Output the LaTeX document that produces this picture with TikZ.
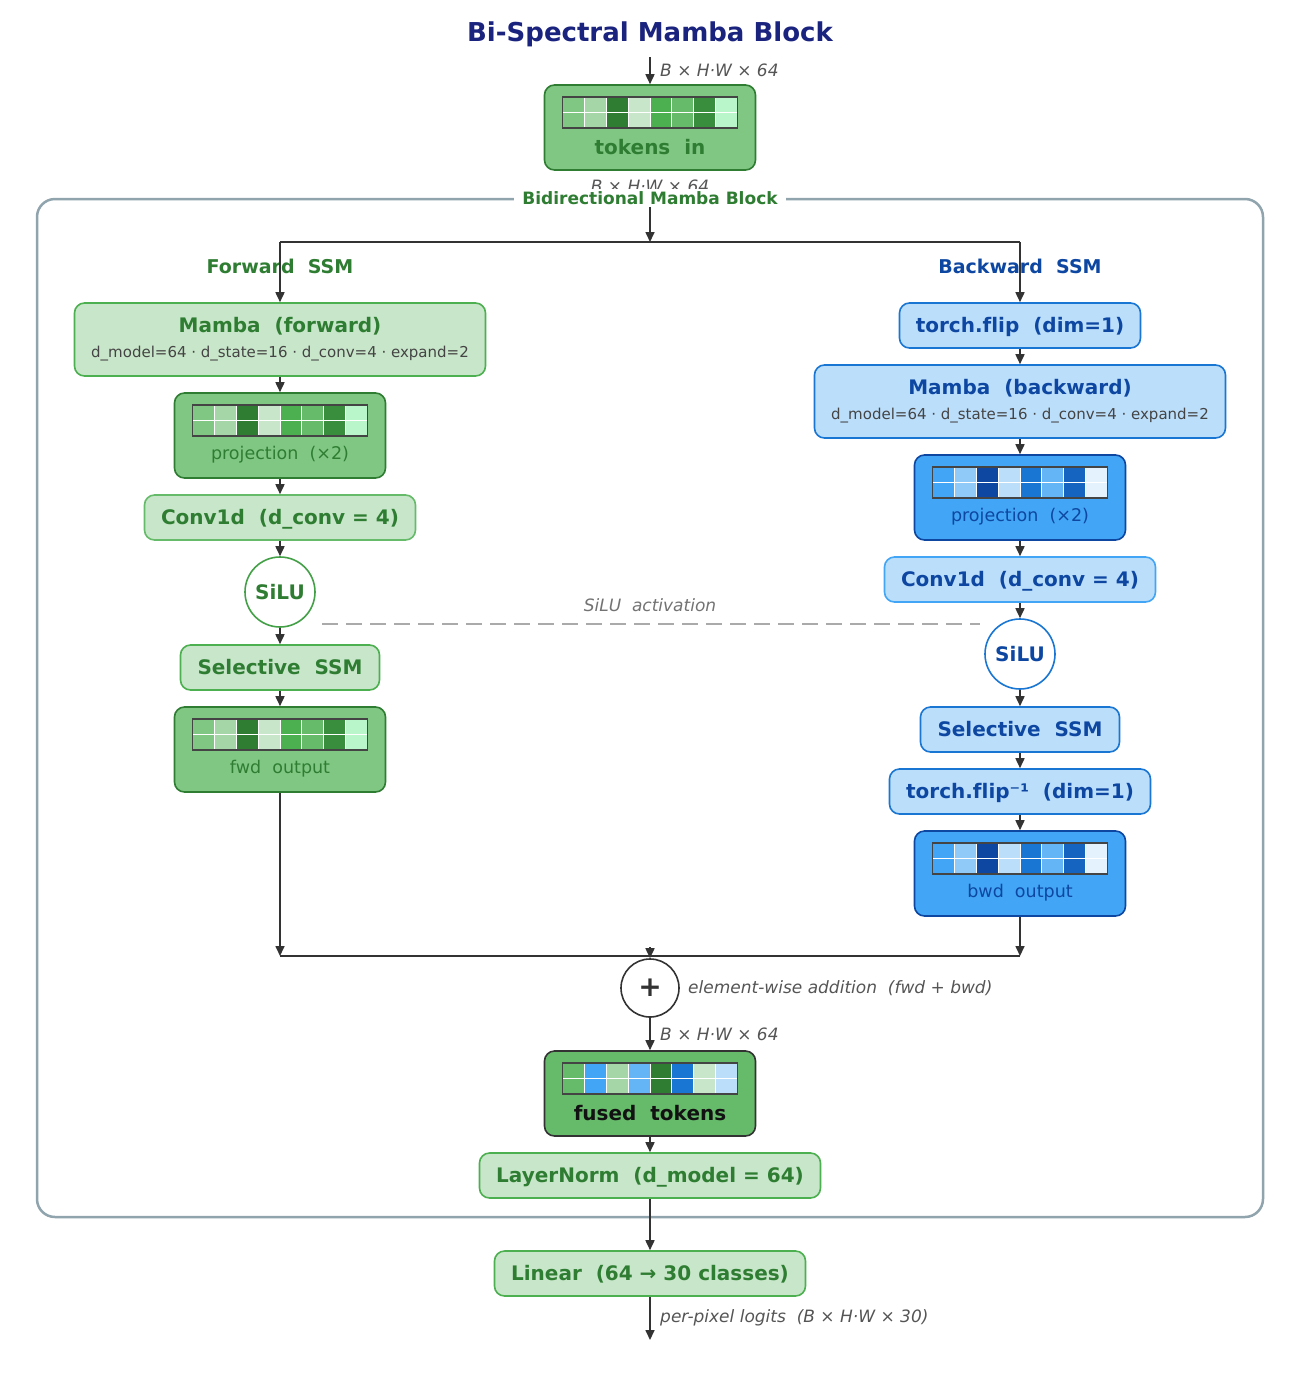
\documentclass[tikz,border=0pt]{standalone}
\usepackage{fontspec}
\setmainfont{DejaVu Sans}[Ligatures=CommonOff]
\usepackage{xcolor}
\usepackage{tikz}
\usetikzlibrary{arrows.meta,calc}
\definecolor{grnlight}{RGB}{200,230,201}
\definecolor{grnmid}{RGB}{76,175,80}
\definecolor{grnsoft}{RGB}{102,187,106}
\definecolor{grntok}{RGB}{129,199,132}
\definecolor{grndark}{RGB}{46,125,50}
\definecolor{grnsilu}{RGB}{67,160,71}
\definecolor{blulight}{RGB}{187,222,251}
\definecolor{blumid}{RGB}{25,118,210}
\definecolor{blusoft}{RGB}{66,165,245}
\definecolor{bludark}{RGB}{13,71,161}
\definecolor{titleblue}{RGB}{26,35,126}
\definecolor{panelgray}{RGB}{144,164,174}
\definecolor{figline}{RGB}{51,51,51}
\definecolor{notegray}{RGB}{85,85,85}
\definecolor{dashgray}{RGB}{170,170,170}
\definecolor{gridedge}{RGB}{68,68,68}
% token cell colours
\definecolor{gA}{RGB}{129,199,132}
\definecolor{gB}{RGB}{165,214,167}
\definecolor{gC}{RGB}{46,125,50}
\definecolor{gD}{RGB}{200,230,201}
\definecolor{gE}{RGB}{76,175,80}
\definecolor{gF}{RGB}{102,187,106}
\definecolor{gG}{RGB}{56,142,60}
\definecolor{gH}{RGB}{185,246,202}
\definecolor{bA}{RGB}{66,165,245}
\definecolor{bB}{RGB}{144,202,249}
\definecolor{bC}{RGB}{13,71,161}
\definecolor{bD}{RGB}{187,222,251}
\definecolor{bE}{RGB}{25,118,210}
\definecolor{bF}{RGB}{100,181,246}
\definecolor{bG}{RGB}{21,101,192}
\definecolor{bH}{RGB}{227,242,253}
\newcommand{\fsz}[1]{\fontsize{#1}{#1}\selectfont}
\newcommand{\tokengrid}[3]{%
  \foreach \cc [count=\k from 0] in {#3}
    \fill[\cc] ({#1-87.5+\k*21.875},#2) rectangle ++(21.875,31);
  \foreach \k in {1,...,7}
    \draw[white, line width=1pt] ({#1-87.5+\k*21.875},#2) -- ++(0,31);
  \draw[white, line width=1pt] ({#1-87.5},{#2+15.5}) -- ++(175,0);
  \draw[gridedge, line width=1.8pt] ({#1-87.5},#2) rectangle ++(175,31);
}
\tikzset{
  basebox/.style={rounded corners=10pt, line width=1.6pt, inner sep=0pt, align=center},
  grnbox/.style={basebox, fill=grnlight, draw=grnmid, text=grndark, minimum height=45pt, font=\fsz{20}\bfseries, text depth=2pt},
  grnconv/.style={grnbox, draw=grnsoft},
  blubox/.style={basebox, fill=blulight, draw=blumid, text=bludark, minimum height=45pt, font=\fsz{20}\bfseries, text depth=2pt},
  bluconv/.style={blubox, draw=blusoft},
  mambagrn/.style={basebox, fill=grnlight, draw=grnmid, minimum width=411pt, minimum height=73pt},
  mambablu/.style={basebox, fill=blulight, draw=blumid, minimum width=411pt, minimum height=73pt},
  tokgrn/.style={basebox, fill=grntok, draw=grndark, minimum width=211pt, minimum height=85pt},
  tokblu/.style={basebox, fill=blusoft, draw=bludark, minimum width=211pt, minimum height=85pt},
  tokfused/.style={basebox, fill=grnsoft, draw=figline, minimum width=211pt, minimum height=85pt},
  silugrn/.style={circle, fill=white, draw=grnsilu, line width=1.6pt, minimum size=70pt, inner sep=0pt, text=grndark, font=\fsz{20}\bfseries},
  silublu/.style={circle, fill=white, draw=blumid, line width=1.6pt, minimum size=70pt, inner sep=0pt, text=bludark, font=\fsz{20}\bfseries},
  sumnode/.style={circle, fill=white, draw=figline, line width=1.6pt, minimum size=58pt, inner sep=0pt, text=figline, font=\fsz{28}\bfseries},
  panel/.style={draw=panelgray, rounded corners=18pt, line width=2.5pt},
  line/.style={-{Triangle[length=10pt,width=9pt]}, draw=figline, line width=1.6pt},
  wire/.style={draw=figline, line width=1.6pt},
  sepline/.style={draw=dashgray, line width=1.6pt, dash pattern=on 16pt off 8pt},
  figtitle/.style={font=\fsz{26}\bfseries, text=titleblue},
  note/.style={font=\fsz{17}\itshape, text=notegray, inner sep=0pt},
  subnote/.style={font=\fsz{15}, text=gridedge, inner sep=0pt},
  toklabel/.style={font=\fsz{17.5}, inner sep=0pt},
  toktitle/.style={font=\fsz{20}\bfseries, inner sep=0pt},
  sidetitle/.style={font=\fsz{19}\bfseries, inner sep=0pt}
}

\begin{document}
\begin{tikzpicture}[x=1pt,y=-1pt]
  \useasboundingbox[fill=white] (0,0) rectangle (1300,1395);

  \node[figtitle] (title) at (650,34) {Bi-Spectral Mamba Block};

  % input tokens
  \coordinate (in) at (650,57);
  \node[tokgrn] (tokin) at (650,127.5) {};
  \tokengrid{650}{97}{gA,gB,gC,gD,gE,gF,gG,gH}
  \node[toktitle, text=grndark] (tokin-t) at (650,147) {tokens~~in};
  \node[note, anchor=west] (dimin) at (660,70) {B × H·W × 64};
  \node[note] (dimblk) at (650,186) {B × H·W × 64};
  \draw[line] (in) -- (tokin.north);

  % block panel
  \node[panel, minimum width=1226pt, minimum height=1018pt] (blockpanel) at (650,708) {};
  \node[font=\fsz{17}\bfseries, text=grndark, fill=white, inner xsep=8pt, inner ysep=2pt] (paneltext) at (650,198) {Bidirectional Mamba Block};

  \coordinate (split) at (650,242);
  \coordinate (fsplit) at (280,242);
  \coordinate (bsplit) at (1020,242);
  \node[sidetitle, text=grndark] (fwdhead) at (280,266) {Forward~~SSM};
  \node[sidetitle, text=bludark] (bwdhead) at (1020,266) {Backward~~SSM};

  % forward branch
  \node[mambagrn] (mfwd) at (280,339.5) {};
  \node[toktitle, text=grndark] (mfwd-t) at (280,326) {Mamba~~(forward)};
  \node[subnote] (mfwd-s) at (280,354) {d\_model=64 · d\_state=16 · d\_conv=4 · expand=2};
  \node[tokgrn] (pfwd) at (280,435.5) {};
  \tokengrid{280}{405}{gA,gB,gC,gD,gE,gF,gG,gH}
  \node[toklabel, text=grndark] (pfwd-t) at (280,455) {projection~~(×2)};
  \node[grnconv, minimum width=271pt] (cfwd) at (280,517.5) {Conv1d~~(d\_conv = 4)};
  \node[silugrn] (sfwd) at (280,592) {SiLU};
  \node[grnbox, minimum width=199pt] (ssmf) at (280,667.5) {Selective~~SSM};
  \node[tokgrn] (ofwd) at (280,749.5) {};
  \tokengrid{280}{719}{gA,gB,gC,gD,gE,gF,gG,gH}
  \node[toklabel, text=grndark] (ofwd-t) at (280,769) {fwd~~output};

  % backward branch
  \node[blubox, minimum width=241pt] (flip) at (1020,325.5) {torch.flip~~(dim=1)};
  \node[mambablu] (mbwd) at (1020,401.5) {};
  \node[toktitle, text=bludark] (mbwd-t) at (1020,388) {Mamba~~(backward)};
  \node[subnote] (mbwd-s) at (1020,416) {d\_model=64 · d\_state=16 · d\_conv=4 · expand=2};
  \node[tokblu] (pbwd) at (1020,497.5) {};
  \tokengrid{1020}{467}{bA,bB,bC,bD,bE,bF,bG,bH}
  \node[toklabel, text=bludark] (pbwd-t) at (1020,517) {projection~~(×2)};
  \node[bluconv, minimum width=271pt] (cbwd) at (1020,579.5) {Conv1d~~(d\_conv = 4)};
  \node[silublu] (sbwd) at (1020,654) {SiLU};
  \node[blubox, minimum width=199pt] (ssmb) at (1020,729.5) {Selective~~SSM};
  \node[blubox, minimum width=261pt] (unflip) at (1020,791.5) {torch.flip⁻¹~~(dim=1)};
  \node[tokblu] (obwd) at (1020,873.5) {};
  \tokengrid{1020}{843}{bA,bB,bC,bD,bE,bF,bG,bH}
  \node[toklabel, text=bludark] (obwd-t) at (1020,893) {bwd~~output};

  % SiLU guide
  \coordinate (dashl) at (322,624);
  \coordinate (dashr) at (980,624);
  \draw[sepline] (dashl) -- (dashr);
  \node[note, text=black!55] (dashtext) at (650,605) {SiLU~~activation};

  % merge
  \coordinate (fjoin) at (280,956);
  \coordinate (bjoin) at (1020,956);
  \coordinate (mjoin) at (650,947);
  \node[sumnode] (plus) at (650,988) {+};
  \node[note, anchor=west] (plustext) at (688,988) {element-wise addition~~(fwd + bwd)};
  \node[tokfused] (fused) at (650,1093.5) {};
  \tokengrid{650}{1063}{gF,bA,gB,bF,gC,bE,gD,bD}
  \node[toktitle, text=black!93] (fused-t) at (650,1113) {fused~~tokens};
  \node[note, anchor=west] (dimfused) at (660,1034) {B × H·W × 64};
  \node[grnbox, minimum width=341pt] (lnorm) at (650,1175.5) {LayerNorm~~(d\_model = 64)};

  % head
  \node[grnbox, minimum width=311pt] (linear) at (650,1273.5) {Linear~~(64 → 30 classes)};
  \coordinate (out) at (650,1340);
  \node[note, anchor=west] (outtext) at (660,1318) {per-pixel logits~~(B × H·W × 30)};

  % connectors
  \draw[line] (paneltext.south) -- (split);
  \draw[wire] (fsplit) -- (bsplit);
  \draw[line] (fsplit) -- (mfwd.north);
  \draw[line] (bsplit) -- (flip.north);
  \draw[line] (mfwd.south) -- (pfwd.north);
  \draw[line] (pfwd.south) -- (cfwd.north);
  \draw[line] (cfwd.south) -- (sfwd.north);
  \draw[line] (sfwd.south) -- (ssmf.north);
  \draw[line] (ssmf.south) -- (ofwd.north);
  \draw[line] (flip.south) -- (mbwd.north);
  \draw[line] (mbwd.south) -- (pbwd.north);
  \draw[line] (pbwd.south) -- (cbwd.north);
  \draw[line] (cbwd.south) -- (sbwd.north);
  \draw[line] (sbwd.south) -- (ssmb.north);
  \draw[line] (ssmb.south) -- (unflip.north);
  \draw[line] (unflip.south) -- (obwd.north);
  \draw[line] (ofwd.south) -- (fjoin);
  \draw[line] (obwd.south) -- (bjoin);
  \draw[wire] (fjoin) -- (bjoin);
  \draw[line] (mjoin) -- (plus.north);
  \draw[line] (plus.south) -- (fused.north);
  \draw[line] (fused.south) -- (lnorm.north);
  \draw[line] (lnorm.south) -- (linear.north);
  \draw[line] (linear.south) -- (out);
\end{tikzpicture}
\end{document}
